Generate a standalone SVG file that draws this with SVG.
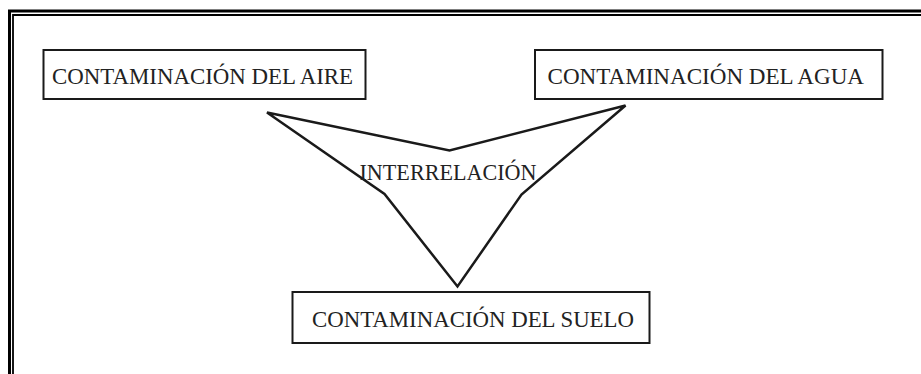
<svg xmlns="http://www.w3.org/2000/svg" width="921" height="374" viewBox="0 0 921 374">
<style>
.box{fill:#fff;stroke:#1a1a1a;stroke-width:2}
.lbl{font-family:"Liberation Serif","Times New Roman",serif;font-size:23.5px;fill:#222}
.conn{fill:none;stroke:#1a1a1a;stroke-width:2.5;stroke-linejoin:miter}
.frame{fill:none;stroke:#000}
</style>
<rect width="921" height="374" fill="#fff"/>
<g id="frame">
<path class="frame" d="M9.5,374 V11 H921" stroke-width="3"/>
<path class="frame" d="M13,374 V15 H921" stroke-width="1.8"/>
</g>
<g id="connectors">
<polygon class="conn" points="267,112.5 449.5,150.5 625.5,105.5 521.5,194.5 457.5,286.5 384.5,194"/>
</g>
<g id="n-interrelacion">
<text class="lbl" x="359.5" y="180" textLength="177" lengthAdjust="spacingAndGlyphs">INTERRELACIÓN</text>
</g>
<g id="n-aire">
<rect class="box" x="43.5" y="50" width="322" height="49"/>
<text class="lbl" x="52" y="83.5" textLength="301" lengthAdjust="spacingAndGlyphs">CONTAMINACIÓN DEL AIRE</text>
</g>
<g id="n-agua">
<rect class="box" x="535" y="50" width="347.5" height="49"/>
<text class="lbl" x="547.5" y="83.5" textLength="316.5" lengthAdjust="spacingAndGlyphs">CONTAMINACIÓN DEL AGUA</text>
</g>
<g id="n-suelo">
<rect class="box" x="292.5" y="292" width="357" height="51"/>
<text class="lbl" x="312" y="327" textLength="322" lengthAdjust="spacingAndGlyphs">CONTAMINACIÓN DEL SUELO</text>
</g>
</svg>
